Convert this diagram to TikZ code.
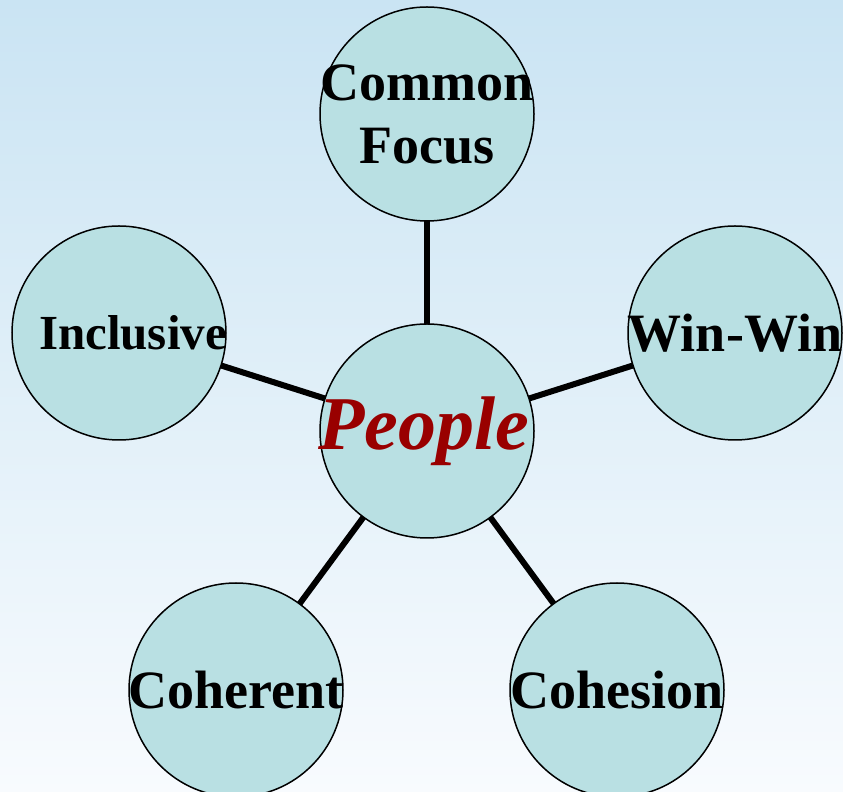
\documentclass[tikz,border=0pt]{standalone}
\usepackage{fontspec}
\setmainfont{Liberation Serif}
\usetikzlibrary{shapes,calc,backgrounds}
\definecolor{bgtop}{RGB}{202,228,243}
\definecolor{bgbot}{RGB}{248,251,254}
\definecolor{bubblefill}{RGB}{185,224,227}
\definecolor{peoplered}{RGB}{153,0,0}
\tikzset{bubble/.style={draw, circle, fill=bubblefill, line width=1.5pt, minimum size=214pt, inner sep=0pt}}
\tikzset{word/.style={font=\fontsize{54}{63}\selectfont\bfseries, align=center, inner sep=0pt}}
\tikzset{spoke/.style={draw, line width=6pt}}

\begin{document}
\begin{tikzpicture}[x=1pt, y=1pt]

\useasboundingbox (0,0) rectangle (843,792);

%CENTER
\node [bubble] (people) at (427,361) {};

%OUTER
\node [bubble] (common) at (427,678) {};
\node [bubble] (inclusive) at (119,459) {};
\node [bubble] (winwin) at (735,459) {};
\node [bubble] (coherent) at (236,102) {};
\node [bubble] (cohesion) at (617,102) {};

%BACKGROUND AND SPOKES
\begin{pgfonlayer}{background}
\fill [top color=bgtop, bottom color=bgbot] (0,0) rectangle (843,792);
\path [spoke] (people.center) -- (common.center);
\path [spoke] (people.center) -- (inclusive.center);
\path [spoke] (people.center) -- (winwin.center);
\path [spoke] (people.center) -- (coherent.center);
\path [spoke] (people.center) -- (cohesion.center);
\end{pgfonlayer}

%TEXTS
\node [word, text=peoplered, font=\fontsize{76}{80}\selectfont\bfseries\itshape] (people-t) at ($(people)+(-3,0)$) {People};
\node [word] (common-t) at (common) {Common\\Focus};
\node [word, font=\fontsize{49}{58}\selectfont\bfseries] (inclusive-t) at ($(inclusive)+(14,0)$) {Inclusive};
\node [word] (winwin-t) at (winwin) {Win-Win};
\node [word] (coherent-t) at (coherent) {Coherent};
\node [word] (cohesion-t) at (cohesion) {Cohesion};

\end{tikzpicture}
\end{document}
